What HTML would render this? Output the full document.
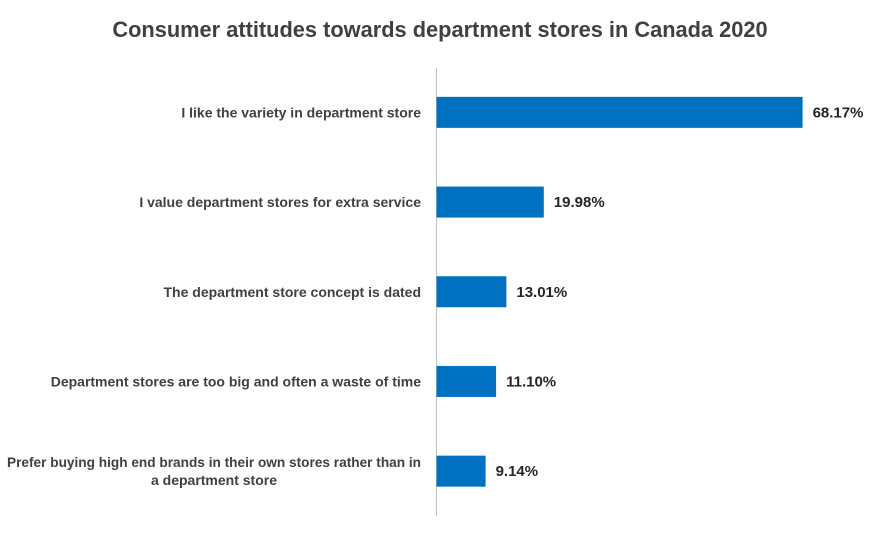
<!DOCTYPE html>
<html><head><meta charset="utf-8"><style>
body{margin:0;background:#fff;}
svg{display:block;font-family:"Liberation Sans",sans-serif;}
</style></head><body>
<svg id="chart" width="875" height="533" viewBox="0 0 875 533">
<rect x="0" y="0" width="875" height="533" fill="#fff"/>
<text x="440" y="37" text-anchor="middle" font-size="21.8" font-weight="bold" fill="#404040">Consumer attitudes towards department stores in Canada 2020</text>
<line x1="436.5" y1="68" x2="436.5" y2="516" stroke="#bfbfbf" stroke-width="1"/>
<g id="bars"></g>
</svg>
<script>
const categories=[["I like the variety in department store"],["I value department stores for extra service"],["The department store concept is dated"],["Department stores are too big and often a waste of time"],["Prefer buying high end brands in their own stores rather than in","a department store"]];
const values=[68.17,19.98,13.01,11.10,9.14];
const valueLabels=["68.17%","19.98%","13.01%","11.10%","9.14%"];
const x0=436.5, pxPer=5.37, topY=67.5, band=89.7, barH=31;
const xScale=v=>x0+v*pxPer;
const yScale=i=>topY+band*(i+0.5);
const g=document.getElementById('bars');
const NS='http://www.w3.org/2000/svg';
values.forEach((v,i)=>{
  const cy=yScale(i);
  const r=document.createElementNS(NS,'rect');
  r.setAttribute('x',x0);r.setAttribute('y',cy-barH/2);
  r.setAttribute('width',xScale(v)-x0);r.setAttribute('height',barH);
  r.setAttribute('fill','#0070c0');
  
  
  g.appendChild(r);
  const t=document.createElementNS(NS,'text');
  t.setAttribute('x',xScale(v)+10);t.setAttribute('y',cy+5);
  t.setAttribute('font-size','15');t.setAttribute('font-weight','bold');t.setAttribute('fill','#262626');
  t.textContent=valueLabels[i];
  
  
  g.appendChild(t);
  const lines=categories[i];
  lines.forEach((ln,j)=>{
    const c=document.createElementNS(NS,'text');
    const off=lines.length>1?(j-(lines.length-1)/2)*18:0;
    if(j===0){c.setAttribute('x',421);c.setAttribute('text-anchor','end');}
    else{c.setAttribute('x',214);c.setAttribute('text-anchor','middle');}
    if(lines.length>1&&j===0){c.setAttribute('textLength','414');c.setAttribute('lengthAdjust','spacingAndGlyphs');}
    c.setAttribute('y',cy+5+off);
    c.setAttribute('font-size','14');c.setAttribute('font-weight','bold');c.setAttribute('fill','#404040');
    c.textContent=ln;
    
    
    g.appendChild(c);
  });
});
</script>
</body></html>
